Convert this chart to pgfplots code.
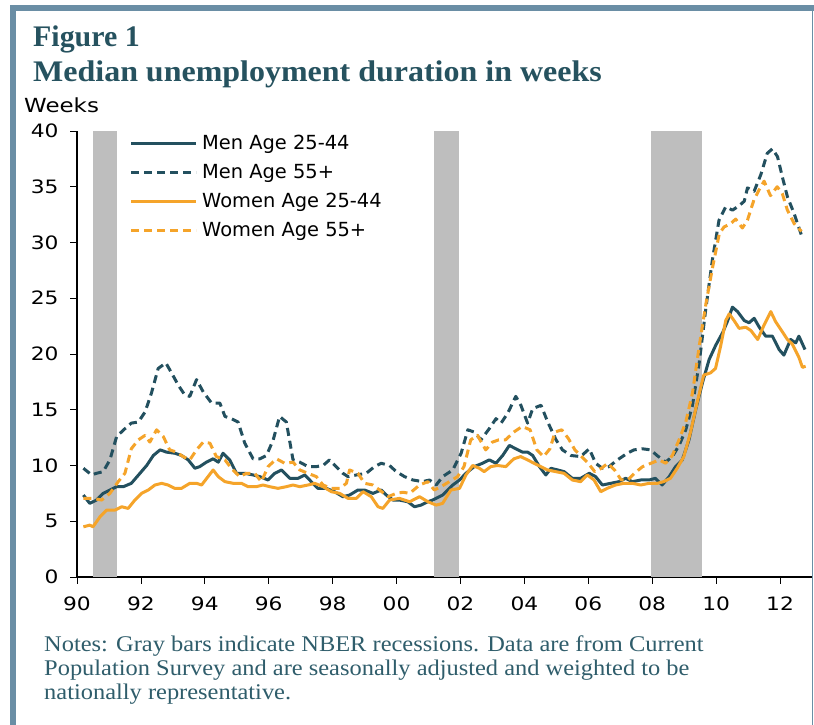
\documentclass[border=0pt]{standalone}
\usepackage{pgfplots}
\pgfplotsset{compat=1.18}
\usepackage{fontspec}
\setmainfont{Liberation Serif}
\newfontfamily\titlefontA{Liberation Serif}
\newfontfamily\titlefontB[FakeStretch=1.07]{Liberation Serif}
\newfontfamily\notefont[FakeStretch=1.09]{Liberation Serif}
\newfontfamily\tickfont[FakeStretch=1.18]{DejaVu Sans}
\newfontfamily\legfont{DejaVu Sans}
\definecolor{framec}{HTML}{6A8EA5}
\definecolor{titlec}{HTML}{26525F}
\definecolor{notec}{HTML}{2F5D6B}
\definecolor{teal}{HTML}{23505F}
\definecolor{orng}{HTML}{F5A42A}
\definecolor{recg}{HTML}{BEBEBE}
\begin{document}
\begin{tikzpicture}[x=1bp,y=1bp]
\fill[white] (0,0) rectangle (814,725);
\fill[framec] (10,714) rectangle (814,720);
\fill[framec] (10,0) rectangle (16,720);
\fill[framec] (811.5,0) rectangle (813,714);
\node[anchor=base west,inner sep=0pt,text=titlec,font=\titlefontA\bfseries\fontsize{30}{32}\selectfont] at (33,678) {Figure 1};
\node[anchor=base west,inner sep=0pt,text=titlec,font=\titlefontB\bfseries\fontsize{30}{32}\selectfont] at (33,643) {Median unemployment duration in weeks};
\node[anchor=base west,inner sep=0pt,font=\tickfont\fontsize{19.5}{21}\selectfont] at (24,612) {Weeks};
\node[anchor=base west,inner sep=0pt,text=notec,font=\notefont\fontsize{22.5}{24}\selectfont] at (44,73) {Notes: Gray bars indicate NBER recessions. Data are from Current};
\node[anchor=base west,inner sep=0pt,text=notec,font=\notefont\fontsize{22.5}{24}\selectfont] at (44,49) {Population Survey and are seasonally adjusted and weighted to be};
\node[anchor=base west,inner sep=0pt,text=notec,font=\notefont\fontsize{22.5}{24}\selectfont] at (44,25) {nationally representative.};
\begin{axis}[
  at={(77bp,148bp)}, anchor=south west,
  scale only axis, width=735bp, height=446bp,
  xmin=1990, xmax=2013, ymin=0, ymax=40,
  axis x line*=bottom, axis y line*=left,
  axis line style={line width=1.5bp, black},
  tick align=outside, major tick length=7bp,
  tick style={line width=0.8bp, black},
  xtick={1990,1992,...,2012},
  xticklabels={90,92,94,96,98,00,02,04,06,08,10,12},
  ytick={0,5,...,40},
  /pgf/number format/assume math mode=true,
  ticklabel style={font=\tickfont\fontsize{18.5}{20}\selectfont},
  xticklabel style={yshift=-9bp},
  yticklabel style={xshift=-8bp},
  legend style={at={(0.0714,1.004)}, anchor=north west, draw=none, fill=none, inner sep=0pt,
    font=\legfont\fontsize{19.5}{21}\selectfont,
    nodes={inner xsep=4.5bp, inner ysep=5bp, text height=15bp, text depth=4bp},
    row sep=0pt},
  legend cell align=left,
  legend image code/.code={\draw[#1] (0bp,0bp) -- (65bp,0bp);},
  every axis plot/.append style={line width=3bp, line join=round},
]
\addplot[fill=recg, draw=none, forget plot] coordinates {(1990.5,0) (1990.5,40) (1991.24,40) (1991.24,0)} -- cycle;
\addplot[fill=recg, draw=none, forget plot] coordinates {(2001.17,0) (2001.17,40) (2001.95,40) (2001.95,0)} -- cycle;
\addplot[fill=recg, draw=none, forget plot] coordinates {(2007.96,0) (2007.96,40) (2009.55,40) (2009.55,0)} -- cycle;

\addplot[teal] coordinates {
(1990.2,7.35)(1990.4,6.6)(1990.61,6.9)(1990.82,7.5)(1991.03,7.8)(1991.24,8.1)(1991.45,8.1)(1991.7,8.4)(1991.97,9.3)(1992.18,10.0)(1992.39,10.9)(1992.6,11.4)(1992.8,11.2)(1993.06,11.1)(1993.27,10.9)(1993.48,10.5)(1993.69,9.75)(1993.84,9.9)(1994.05,10.3)(1994.26,10.6)(1994.42,10.3)(1994.57,11.1)(1994.78,10.5)(1994.99,9.3)(1995.25,9.3)(1995.51,9.15)(1995.72,9.0)(1995.98,8.7)(1996.19,9.3)(1996.4,9.6)(1996.66,8.85)(1996.92,8.85)(1997.13,9.15)(1997.33,8.55)(1997.54,7.95)(1997.8,7.95)(1998.06,7.65)(1998.32,7.2)(1998.53,7.35)(1998.79,7.8)(1999.0,7.8)(1999.26,7.5)(1999.52,7.8)(1999.68,7.35)(1999.89,6.9)(2000.09,6.9)(2000.35,6.75)(2000.56,6.3)(2000.77,6.45)(2000.98,6.75)(2001.13,6.9)(2001.44,7.35)(2001.76,8.25)(2001.97,8.7)(2002.17,9.3)(2002.43,9.9)(2002.69,10.2)(2002.9,10.5)(2003.11,10.2)(2003.32,10.9)(2003.53,11.8)(2003.73,11.5)(2003.94,11.2)(2004.1,11.2)(2004.26,10.9)(2004.47,9.9)(2004.67,9.15)(2004.83,9.75)(2005.04,9.6)(2005.24,9.45)(2005.5,8.85)(2005.76,8.85)(2006.03,9.3)(2006.23,9.0)(2006.44,8.25)(2006.7,8.4)(2006.96,8.55)(2007.17,8.85)(2007.38,8.55)(2007.64,8.7)(2007.9,8.7)(2008.1,8.85)(2008.31,8.25)(2008.53,9.0)(2008.73,9.9)(2008.94,10.5)(2009.15,12.3)(2009.36,15.0)(2009.57,17.4)(2009.78,19.5)(2009.99,20.8)(2010.2,21.9)(2010.35,22.9)(2010.51,24.2)(2010.67,23.8)(2010.88,23.0)(2011.03,22.8)(2011.19,23.2)(2011.35,22.4)(2011.55,21.6)(2011.76,21.6)(2011.97,20.4)(2012.12,19.9)(2012.33,21.3)(2012.49,21.0)(2012.59,21.6)(2012.78,20.4)
};
\addlegendentry{Men Age 25-44}

\addplot[teal, dash pattern=on 8bp off 5bp] coordinates {
(1990.2,9.75)(1990.46,9.15)(1990.61,9.3)(1990.82,9.45)(1991.03,10.5)(1991.24,12.6)(1991.5,13.3)(1991.7,13.8)(1991.92,13.9)(1992.13,14.8)(1992.33,16.5)(1992.54,18.7)(1992.78,19.2)(1992.96,18.3)(1993.17,17.2)(1993.38,16.3)(1993.53,16.2)(1993.74,17.7)(1993.95,16.6)(1994.21,15.6)(1994.47,15.6)(1994.63,14.4)(1994.83,14.2)(1995.04,13.9)(1995.25,12.0)(1995.51,10.6)(1995.72,10.6)(1995.93,10.9)(1996.14,12.3)(1996.34,14.4)(1996.55,13.9)(1996.76,10.5)(1996.97,10.3)(1997.23,9.9)(1997.49,9.9)(1997.7,10.0)(1997.9,10.5)(1998.11,9.9)(1998.32,9.3)(1998.48,9.0)(1998.74,9.15)(1999.05,9.3)(1999.31,9.9)(1999.52,10.2)(1999.78,10.0)(1999.99,9.45)(2000.25,9.0)(2000.51,8.7)(2000.82,8.55)(2001.03,8.7)(2001.24,8.25)(2001.44,9.0)(2001.76,9.6)(2002.02,11.1)(2002.23,13.2)(2002.43,13.0)(2002.64,12.3)(2002.9,13.3)(2003.11,14.2)(2003.27,13.8)(2003.48,14.7)(2003.73,16.2)(2003.89,15.4)(2004.1,13.8)(2004.26,15.1)(2004.52,15.4)(2004.73,13.9)(2004.99,12.3)(2005.19,11.4)(2005.45,10.9)(2005.76,10.8)(2006.03,11.5)(2006.23,10.2)(2006.44,9.75)(2006.65,9.9)(2006.91,10.5)(2007.22,11.1)(2007.43,11.4)(2007.69,11.5)(2007.95,11.4)(2008.15,10.9)(2008.42,10.3)(2008.63,10.8)(2008.84,11.8)(2009.05,13.2)(2009.26,15.4)(2009.47,19.2)(2009.67,23.9)(2009.88,28.4)(2010.09,32.0)(2010.3,33.2)(2010.51,32.9)(2010.72,33.3)(2010.88,33.7)(2010.98,34.9)(2011.19,34.6)(2011.4,36.1)(2011.6,38.0)(2011.76,38.4)(2011.92,37.7)(2012.07,35.9)(2012.23,34.1)(2012.44,32.6)(2012.7,30.4)
};
\addlegendentry{Men Age 55+}

\addplot[orng] coordinates {
(1990.2,4.5)(1990.4,4.65)(1990.5,4.5)(1990.72,5.4)(1990.93,6.0)(1991.19,6.0)(1991.4,6.3)(1991.6,6.15)(1991.81,6.9)(1992.02,7.5)(1992.23,7.8)(1992.44,8.25)(1992.65,8.4)(1992.85,8.25)(1993.06,7.95)(1993.27,7.95)(1993.53,8.4)(1993.74,8.4)(1993.9,8.25)(1994.1,9.0)(1994.26,9.6)(1994.42,9.0)(1994.63,8.55)(1994.89,8.4)(1995.15,8.4)(1995.35,8.1)(1995.61,8.1)(1995.82,8.25)(1996.03,8.1)(1996.29,7.95)(1996.55,8.1)(1996.76,8.25)(1996.97,8.1)(1997.23,8.25)(1997.44,8.4)(1997.7,8.1)(1997.96,7.65)(1998.22,7.5)(1998.48,7.05)(1998.74,7.05)(1998.95,7.65)(1999.21,7.2)(1999.42,6.3)(1999.57,6.15)(1999.78,6.9)(2000.09,7.05)(2000.41,6.75)(2000.72,7.2)(2000.98,6.75)(2001.24,6.45)(2001.44,6.6)(2001.7,7.8)(2001.97,7.95)(2002.17,9.15)(2002.38,10.0)(2002.59,9.75)(2002.74,9.45)(2002.95,9.9)(2003.16,10.0)(2003.42,9.9)(2003.67,10.6)(2003.88,10.8)(2004.1,10.5)(2004.3,10.2)(2004.51,9.9)(2004.72,9.6)(2004.98,9.45)(2005.24,9.3)(2005.5,8.7)(2005.76,8.55)(2005.97,9.15)(2006.18,8.7)(2006.39,7.65)(2006.59,7.95)(2006.85,8.25)(2007.11,8.4)(2007.38,8.4)(2007.64,8.25)(2007.9,8.4)(2008.16,8.4)(2008.36,8.55)(2008.57,8.85)(2008.78,9.75)(2008.99,10.8)(2009.2,13.0)(2009.41,15.7)(2009.61,18.1)(2009.82,18.3)(2009.98,18.7)(2010.14,20.7)(2010.3,23.0)(2010.41,23.6)(2010.56,23.0)(2010.72,22.3)(2010.93,22.4)(2011.09,22.1)(2011.3,21.3)(2011.5,22.6)(2011.71,23.8)(2011.86,22.9)(2012.07,22.0)(2012.23,21.3)(2012.38,20.9)(2012.59,19.7)(2012.7,18.8)(2012.8,18.9)
};
\addlegendentry{Women Age 25-44}

\addplot[orng, dash pattern=on 8bp off 5bp] coordinates {
(1990.2,7.05)(1990.5,7.05)(1990.77,6.9)(1991.03,7.5)(1991.29,8.55)(1991.5,9.3)(1991.7,11.5)(1991.92,12.3)(1992.13,12.7)(1992.28,12.1)(1992.49,13.2)(1992.7,12.6)(1992.9,11.4)(1993.11,11.2)(1993.32,10.8)(1993.53,10.5)(1993.74,11.4)(1993.95,12.1)(1994.16,12.0)(1994.36,10.8)(1994.63,10.5)(1994.83,9.75)(1995.09,9.0)(1995.3,9.3)(1995.56,9.3)(1995.77,8.55)(1995.98,9.9)(1996.24,10.6)(1996.5,10.2)(1996.76,10.3)(1996.97,9.6)(1997.23,9.3)(1997.49,9.0)(1997.7,8.25)(1997.96,7.95)(1998.22,7.95)(1998.43,8.4)(1998.53,9.6)(1998.79,9.3)(1999.0,8.4)(1999.26,8.25)(1999.47,7.8)(1999.73,7.2)(1999.99,7.5)(2000.2,7.6)(2000.41,7.5)(2000.72,8.25)(2000.98,8.55)(2001.18,7.8)(2001.39,8.1)(2001.65,8.55)(2001.91,9.0)(2002.11,9.9)(2002.32,12.3)(2002.53,12.7)(2002.79,11.4)(2003.0,12.1)(2003.2,12.3)(2003.41,12.3)(2003.67,13.0)(2003.93,13.5)(2004.18,13.2)(2004.39,11.4)(2004.6,10.8)(2004.8,11.5)(2004.96,13.0)(2005.17,13.2)(2005.38,12.4)(2005.58,11.4)(2005.79,10.8)(2006.0,10.2)(2006.2,9.45)(2006.41,9.75)(2006.61,10.2)(2006.82,9.6)(2007.03,8.7)(2007.24,8.7)(2007.44,9.3)(2007.7,9.9)(2007.96,10.2)(2008.22,10.5)(2008.42,10.2)(2008.63,10.9)(2008.84,12.3)(2009.05,13.9)(2009.26,16.5)(2009.47,20.7)(2009.68,24.5)(2009.89,27.8)(2010.1,30.8)(2010.25,31.4)(2010.46,31.7)(2010.61,32.1)(2010.82,31.3)(2010.98,32.0)(2011.18,33.8)(2011.34,34.7)(2011.5,35.5)(2011.7,34.2)(2011.91,35.0)(2012.07,34.4)(2012.23,32.9)(2012.44,31.7)(2012.67,31.0)
};
\addlegendentry{Women Age 55+}
\end{axis}
\end{tikzpicture}
\end{document}
